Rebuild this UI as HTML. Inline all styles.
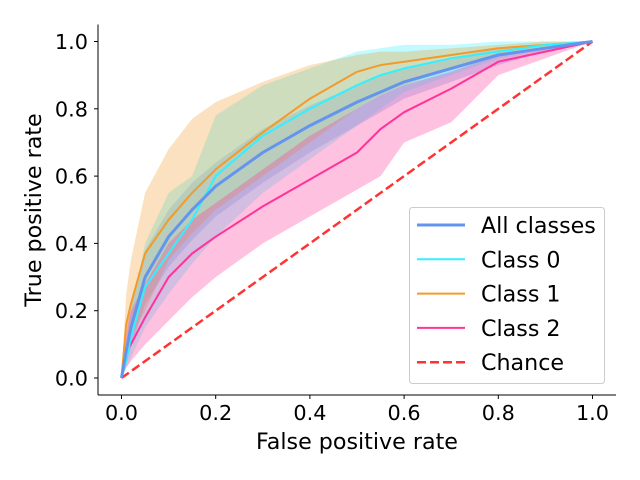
<!DOCTYPE html>
<html><head><meta charset="utf-8">
<style>
html,body{margin:0;padding:0;background:#fff;}
svg{display:block;font-family:"DejaVu Sans","Liberation Sans",sans-serif;}
</style></head>
<body>
<svg id="chart" width="640" height="480" viewBox="0 0 640 480" xmlns="http://www.w3.org/2000/svg">
<g id="bands"></g>
<g id="lines"></g>
<g id="axes"></g>
<g id="legend"></g>
</svg>
<script>
const fprGrid = [0,0.01,0.02,0.05,0.1,0.15,0.2,0.3,0.4,0.5,0.55,0.6,0.7,0.8,0.9,1.0];
const allMean  = [0,0.08,0.15,0.30,0.42,0.50,0.57,0.67,0.75,0.82,0.85,0.88,0.92,0.96,0.98,1.0];
const allUpper = [0,0.12,0.22,0.38,0.50,0.58,0.64,0.74,0.81,0.87,0.90,0.92,0.95,0.98,0.99,1.0];
const allLower = [0,0.04,0.09,0.22,0.33,0.41,0.48,0.58,0.67,0.75,0.79,0.83,0.88,0.93,0.97,1.0];
const c0Mean  = [0,0.05,0.12,0.27,0.37,0.47,0.60,0.72,0.80,0.87,0.90,0.92,0.95,0.97,0.99,1.0];
const c0Upper = [0,0.10,0.20,0.40,0.55,0.60,0.78,0.87,0.92,0.97,0.98,0.99,0.99,1.0,1.0,1.0];
const c0Lower = [0,0.03,0.06,0.15,0.25,0.34,0.42,0.55,0.65,0.75,0.80,0.85,0.90,0.95,0.98,1.0];
const c1Mean  = [0,0.16,0.22,0.37,0.47,0.55,0.62,0.73,0.83,0.91,0.93,0.94,0.96,0.98,0.99,1.0];
const c1Upper = [0,0.25,0.35,0.55,0.68,0.77,0.82,0.88,0.93,0.96,0.97,0.97,0.98,0.99,1.0,1.0];
const c1Lower = [0,0.08,0.12,0.20,0.35,0.43,0.50,0.60,0.70,0.80,0.84,0.87,0.92,0.96,0.98,1.0];
const c2Mean  = [0,0.08,0.10,0.18,0.30,0.37,0.42,0.51,0.59,0.67,0.74,0.79,0.86,0.94,0.97,1.0];
const c2Upper = [0,0.15,0.20,0.28,0.40,0.47,0.52,0.62,0.72,0.80,0.84,0.87,0.91,0.96,0.98,1.0];
const c2Lower = [0,0.03,0.05,0.10,0.17,0.24,0.30,0.40,0.48,0.56,0.60,0.70,0.76,0.90,0.95,1.0];
const xTicks = [0,0.2,0.4,0.6,0.8,1.0];
const yTicks = [0,0.2,0.4,0.6,0.8,1.0];
const tickLabels = ["0.0","0.2","0.4","0.6","0.8","1.0"];
const legendLabels = ["All classes","Class 0","Class 1","Class 2","Chance"];

const NS="http://www.w3.org/2000/svg";
const X=v=>121.5+v*471;
const Y=v=>378-v*336.5;
function mk(tag,attrs,parent){const e=document.createElementNS(NS,tag);for(const k in attrs)e.setAttribute(k,attrs[k]);parent.appendChild(e);return e;}
const bands=document.getElementById('bands'),lines=document.getElementById('lines'),axes=document.getElementById('axes'),legend=document.getElementById('legend');
function pts(ys){return fprGrid.map((f,i)=>X(f).toFixed(1)+','+Y(ys[i]).toFixed(1));}
const series=[
 {name:'all-classes',mean:allMean,up:allUpper,lo:allLower,color:'#6495ED',w:3},
 {name:'class-0',mean:c0Mean,up:c0Upper,lo:c0Lower,color:'#33F0FF',w:2},
 {name:'class-1',mean:c1Mean,up:c1Upper,lo:c1Lower,color:'#F39A2A',w:2},
 {name:'class-2',mean:c2Mean,up:c2Upper,lo:c2Lower,color:'#FF3399',w:2}
];
series.forEach(s=>{
 const p=mk('polygon',{points:pts(s.up).concat(pts(s.lo).reverse()).join(' '),fill:s.color,'fill-opacity':0.3,stroke:'none'},bands);
 
 
});
const ch=mk('line',{x1:X(0),y1:Y(0),x2:X(1),y2:Y(1),stroke:'#F33','stroke-width':2.5,'stroke-dasharray':'9,4'},lines);


series.slice().reverse().forEach(s=>{
 const l=mk('polyline',{points:pts(s.mean).join(' '),fill:'none',stroke:s.color,'stroke-width':s.w,'stroke-linejoin':'round'},lines);
 
 
});
const ls=mk('line',{x1:98,y1:24.5,x2:98,y2:395,stroke:'#000','stroke-width':1},axes);


const bs=mk('line',{x1:98,y1:395,x2:616,y2:395,stroke:'#000','stroke-width':1},axes);


xTicks.forEach((v,i)=>{
 mk('line',{x1:X(v),y1:395,x2:X(v),y2:399,stroke:'#000'},axes);
 const t=mk('text',{x:X(v),y:420,'font-size':20.8,'text-anchor':'middle',fill:'#000'},axes);
 t.textContent=tickLabels[i];
 
 
});
yTicks.forEach((v,i)=>{
 mk('line',{x1:94,y1:Y(v),x2:98,y2:Y(v),stroke:'#000'},axes);
 const t=mk('text',{x:88,y:Y(v)+7.5,'font-size':20.8,'text-anchor':'end',fill:'#000'},axes);
 t.textContent=tickLabels[i];
 
 
});
const xt=mk('text',{x:357,y:449,'font-size':22.2,'text-anchor':'middle',fill:'#000'},axes);
xt.textContent='False positive rate';


const yt=mk('text',{x:41,y:210,'font-size':22.2,'text-anchor':'middle',fill:'#000',transform:'rotate(-90 41 210)'},axes);
yt.textContent='True positive rate';


const lb=mk('rect',{x:409.5,y:207.5,width:195,height:176,rx:3,fill:'#fff','fill-opacity':0.8,stroke:'#ccc'},legend);


const lcolors=['#6495ED','#33F0FF','#F39A2A','#FF3399','#F33'];
const lw=[3,2,2,2,2.5];
legendLabels.forEach((lab,i)=>{
 const cy=225+i*34.3;
 const g=mk('g',{},legend);
 
 
 const a={x1:417,y1:cy,x2:465,y2:cy,stroke:lcolors[i],'stroke-width':lw[i]};
 if(i===4)a['stroke-dasharray']='9,4';
 mk('line',a,g);
 const t=mk('text',{x:481,y:cy+8,'font-size':22.2,fill:'#000'},g);
 t.textContent=lab;
});
</script>
</body></html>
